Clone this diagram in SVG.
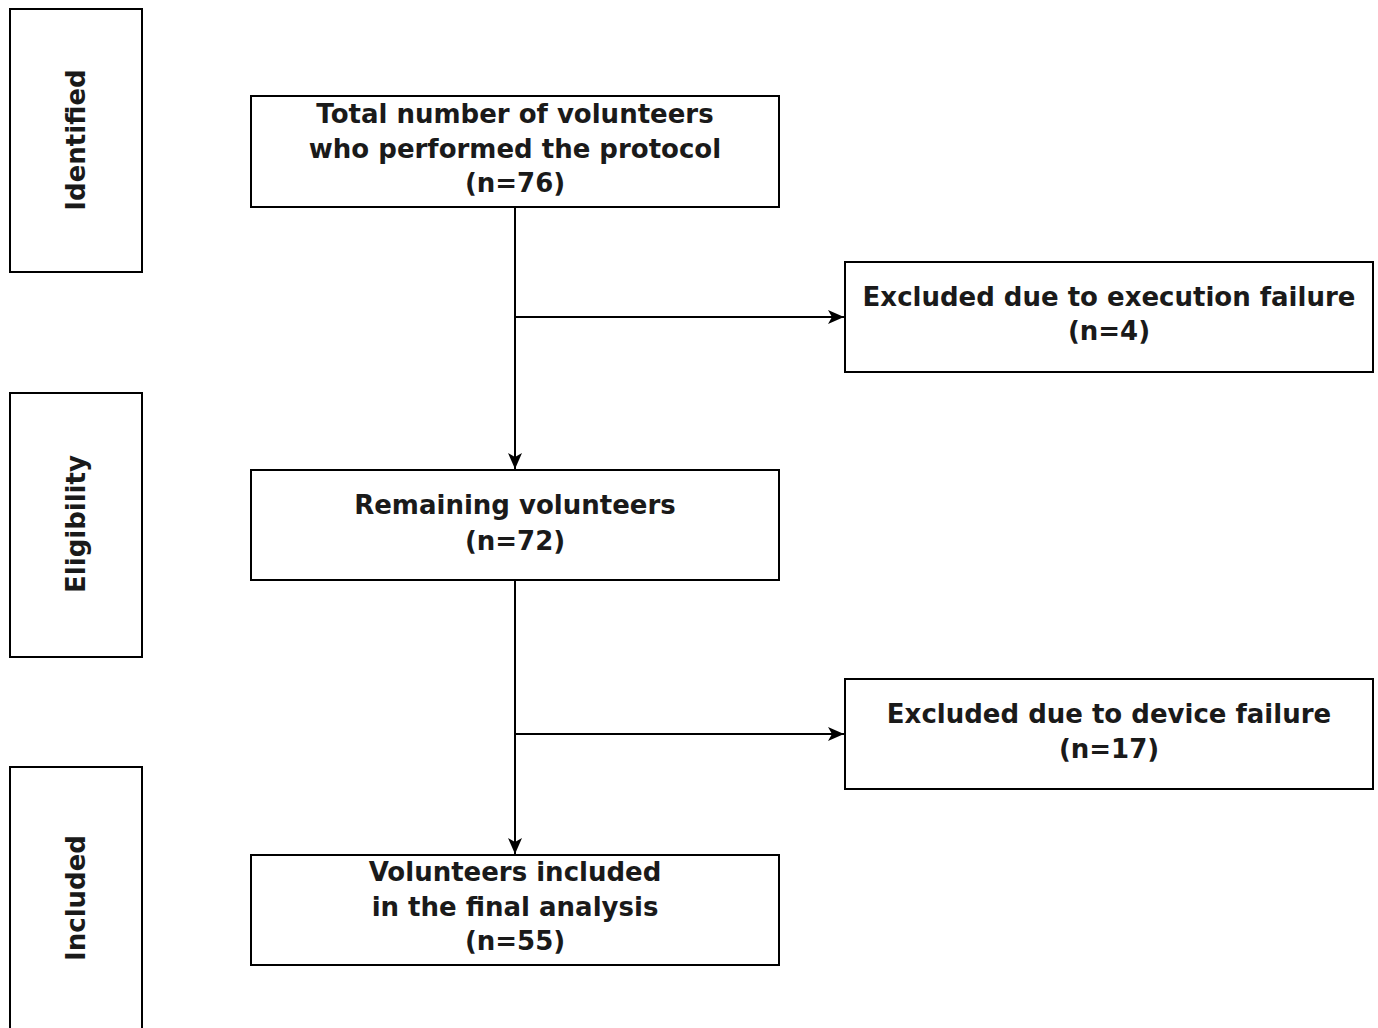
<svg xmlns="http://www.w3.org/2000/svg" width="1378" height="1028" viewBox="0 0 1378 1028">
<style>
rect{fill:#fff;stroke:#000;stroke-width:2}
text{font-family:"DejaVu Sans",Verdana,sans-serif;font-weight:bold;font-size:26px;fill:#1a1a1a;text-anchor:middle}
.c{fill:none;stroke:#000;stroke-width:2}
</style>
<defs>
<marker id="a" viewBox="0 0 16 14" refX="16" refY="7" markerWidth="16" markerHeight="14" markerUnits="userSpaceOnUse" orient="auto">
<path d="M0,0 L16,7 L0,14 L4,7 Z" fill="#000"/>
</marker>
</defs>
<rect width="1378" height="1028" style="fill:#fff;stroke:none"/>
<g id="stage-identified"><rect x="10" y="9" width="132" height="263"/><text transform="translate(85,140) rotate(-90)">Identified</text></g>
<g id="stage-eligibility"><rect x="10" y="393" width="132" height="264"/><text transform="translate(85,524) rotate(-90)">Eligibility</text></g>
<g id="stage-included"><rect x="10" y="767" width="132" height="280"/><text transform="translate(85,898) rotate(-90)">Included</text></g>
<g id="total"><rect x="251" y="96" width="528" height="111"/><text x="515" y="123">Total number of volunteers</text><text x="515" y="158">who performed the protocol</text><text x="515" y="192">(n=76)</text></g>
<g id="excl-exec"><rect x="845" y="262" width="528" height="110"/><text x="1109" y="306">Excluded due to execution failure</text><text x="1109" y="340">(n=4)</text></g>
<g id="remaining"><rect x="251" y="470" width="528" height="110"/><text x="515" y="514">Remaining volunteers</text><text x="515" y="550">(n=72)</text></g>
<g id="excl-device"><rect x="845" y="679" width="528" height="110"/><text x="1109" y="723">Excluded due to device failure</text><text x="1109" y="758">(n=17)</text></g>
<g id="final"><rect x="251" y="855" width="528" height="110"/><text x="515" y="881">Volunteers included</text><text x="515" y="916">in the final analysis</text><text x="515" y="950">(n=55)</text></g>
<g id="connectors">
<path class="c" d="M515,207 V469" marker-end="url(#a)"/>
<path class="c" d="M515,317 H844" marker-end="url(#a)"/>
<path class="c" d="M515,580 V854" marker-end="url(#a)"/>
<path class="c" d="M515,734 H844" marker-end="url(#a)"/>
</g>
</svg>
